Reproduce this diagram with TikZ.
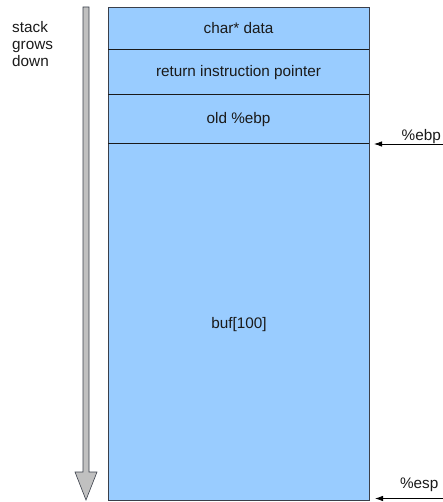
\documentclass[tikz,border=0pt]{standalone}
\usepackage{fontspec}
\setmainfont{Liberation Sans}
\usetikzlibrary{arrows.meta}
\definecolor{cellblue}{HTML}{99CCFF}
\definecolor{greyarrow}{HTML}{C0C0C0}
\definecolor{edge}{HTML}{3A3F4A}
\definecolor{ink}{HTML}{1A1A1A}
\begin{document}
\begin{tikzpicture}[x=1pt,y=-1pt,
  cell/.style={draw=edge,fill=cellblue,line width=0.9pt},
  divider/.style={draw=ink,line width=0.8pt},
  lbl/.style={font=\fontsize{15.3}{17}\selectfont,text=ink,inner sep=0pt},
  pointer/.style={draw=black,line width=0.8pt,-{Latex[length=8pt,width=5.5pt]}}]
\useasboundingbox (0,0) rectangle (443,502);
% stack frame cells
\draw[cell] (108,7) rectangle (369,500);
\draw[divider] (108,49) -- (369,49);
\draw[divider] (108,94) -- (369,94);
\draw[divider] (108,143) -- (369,143);
\node[lbl,anchor=base] (data) at (238.5,34) {char* data};
\node[lbl,anchor=base] (rip) at (238.5,77) {return instruction pointer};
\node[lbl,anchor=base] (oldebp) at (238.5,124) {old \%ebp};
\node[lbl,anchor=base] (buf) at (239,328) {buf[100]};
% growth direction
\draw[draw=edge,fill=greyarrow,line width=0.6pt]
  (83,7) -- (89,7) -- (89,472) -- (97,472) -- (86,500) -- (75,472) -- (83,472) -- cycle;
\node[lbl,anchor=base west] (g1) at (12,32.5) {stack};
\node[lbl,anchor=base west] (g2) at (12,49.5) {grows};
\node[lbl,anchor=base west] (g3) at (12,66.5) {down};
% register pointers
\coordinate (ebpend) at (443,144);
\coordinate (ebptip) at (374,144);
\coordinate (espend) at (443,498.5);
\coordinate (esptip) at (375,498.5);
\draw[pointer] (ebpend) -- (ebptip);
\draw[pointer] (espend) -- (esptip);
\node[lbl,anchor=base east] (ebp) at (441,141) {\%ebp};
\node[lbl,anchor=base east] (esp) at (438.5,488) {\%esp};
\end{tikzpicture}
\end{document}
